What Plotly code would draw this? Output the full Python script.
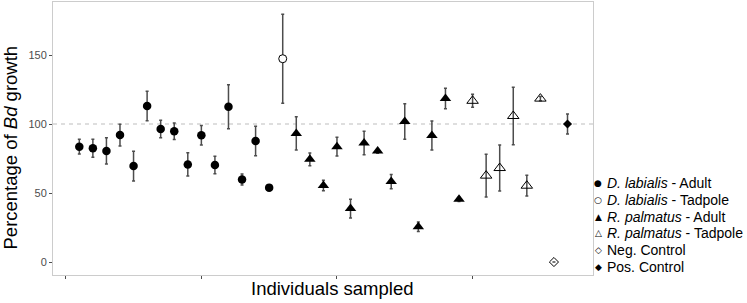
import plotly.graph_objects as go

# ---- data ----
x_dl_adult = [1, 2, 3, 4, 5, 6, 7, 8, 9, 10, 11, 12, 13, 14, 15]
y_dl_adult = [83.6, 82.5, 80.5, 92.0, 69.5, 113.0, 96.4, 94.7, 70.7, 91.9, 70.3, 112.5, 59.8, 87.7, 53.9]
e_dl_adult = [5.4, 6.5, 9.5, 7.9, 10.8, 10.7, 6.3, 6.0, 8.4, 7.1, 6.3, 15.9, 4.0, 10.7, 1.0]

x_dl_tad = [16]
y_dl_tad = [147.3]
e_dl_tad = [32.3]

x_rp_adult = [17, 18, 19, 20, 21, 22, 23, 24, 25, 26, 27, 28, 29]
y_rp_adult = [93.2, 74.4, 55.5, 83.6, 38.7, 86.3, 80.4, 58.3, 101.8, 25.6, 91.7, 118.5, 45.4]
e_rp_adult = [12.0, 4.6, 3.8, 6.8, 6.8, 8.5, 1.5, 5.2, 12.9, 3.4, 10.5, 7.4, 1.5]

x_rp_tad = [30, 31, 32, 33, 34, 35]
y_rp_tad = [116.8, 62.6, 68.1, 105.8, 55.3, 118.4]
e_rp_tad = [4.7, 15.5, 16.7, 20.8, 7.5, 1.5]

x_neg = [36]
y_neg = [0.0]
e_neg = [0.0]

x_pos = [37]
y_pos = [100.0]
e_pos = [7.2]

y_ticks = [0, 50, 100, 150]
x_ticks = [0, 10, 20, 30]

legend_labels = ["<i>D. labialis</i> - Adult", "<i>D. labialis</i> - Tadpole",
                 "<i>R. palmatus</i> - Adult", "<i>R. palmatus</i> - Tadpole",
                 "Neg. Control", "Pos. Control"]
legend_glyphs = ["\u25CF", "\u25CB", "\u25B2", "\u25B3", "\u25C7", "\u25C6"]

FONT = "Liberation Sans, Arial, sans-serif"
ERR = "#4d4d4d"

fig = go.Figure()

def add(xs, ys, es, name, symbol, size, fill, lw=1.0):
    fig.add_trace(go.Scatter(
        x=xs, y=ys, mode="markers", name=name, showlegend=False,
        marker=dict(symbol=symbol, size=size, color=fill,
                    line=dict(color="black", width=lw)),
        error_y=dict(type="data", array=es, visible=True,
                     color=ERR, thickness=1.5, width=1.5),
    ))

add(x_dl_adult, y_dl_adult, e_dl_adult, "D. labialis - Adult", "circle", 8.5, "black", 0)
add(x_dl_tad, y_dl_tad, e_dl_tad, "D. labialis - Tadpole", "circle", 8, "white", 1)
add(x_rp_adult, y_rp_adult, e_rp_adult, "R. palmatus - Adult", "triangle-up", 10, "black", 0)
add(x_rp_tad, y_rp_tad, e_rp_tad, "R. palmatus - Tadpole", "triangle-up-open", 10, "black", 1)
add(x_neg, y_neg, e_neg, "Neg. Control", "diamond-open", 7, "black", 1)
add(x_pos, y_pos, e_pos, "Pos. Control", "diamond", 7, "black", 0)

fig.add_hline(y=100, line=dict(color="#bdbdbd", width=1, dash="4px,4px"), layer="below")

# geometry in pixels
L, R, T, B = 53, 593, 2, 275
W, H = 747, 303
pw, ph = R - L, B - T

def px(xp):
    return (xp - L) / pw

def py(yp):
    return (B - yp) / ph

# legend drawn as text
row0, dy = 183, 16.8
gx, tx = 598, 605
for i, (g, lab) in enumerate(zip(legend_glyphs, legend_labels)):
    yy = row0 + dy * i
    fig.add_annotation(x=px(gx), y=py(yy), xref="paper", yref="paper",
                       text=g, showarrow=False, xanchor="center", yanchor="middle",
                       font=dict(family="DejaVu Sans", size=9, color="black"))
    fig.add_annotation(x=px(tx), y=py(yy), xref="paper", yref="paper",
                       text=lab, showarrow=False, xanchor="left", yanchor="middle",
                       font=dict(family=FONT, size=14, color="black"))

# axis titles
fig.add_annotation(x=px(332), y=py(288), xref="paper", yref="paper",
                   text="Individuals sampled", showarrow=False,
                   xanchor="center", yanchor="middle",
                   font=dict(family=FONT, size=18.5, color="black"))
fig.add_annotation(x=px(10), y=py(147.5), xref="paper", yref="paper",
                   text="Percentage of <i>Bd</i> growth", showarrow=False, textangle=-90,
                   xanchor="center", yanchor="middle",
                   font=dict(family=FONT, size=18.5, color="black"))

fig.update_layout(
    width=W, height=H,
    margin=dict(l=L, r=W - R, t=T, b=H - B, pad=0),
    plot_bgcolor="white", paper_bgcolor="white",
    font=dict(family=FONT, color="black"),
    showlegend=False,
    xaxis=dict(range=[-0.94, 38.88], showgrid=False, zeroline=False,
               tickmode="array", tickvals=x_ticks, showticklabels=False,
               ticks="outside", ticklen=3, tickcolor="#4d4d4d", tickwidth=1,
               showline=True, mirror=True, linecolor="#cccccc", linewidth=1),
    yaxis=dict(range=[-9.4, 188.4], showgrid=False, zeroline=False,
               tickmode="array", tickvals=y_ticks, ticktext=[str(v) for v in y_ticks],
               ticks="outside", ticklen=3, tickcolor="#4d4d4d", tickwidth=1,
               tickfont=dict(size=11, color="#4d4d4d", family=FONT),
               showline=True, mirror=True, linecolor="#cccccc", linewidth=1),
)

fig.write_html("out.html", config={"displayModeBar": False},
               post_script="document.body.style.margin='0';")
